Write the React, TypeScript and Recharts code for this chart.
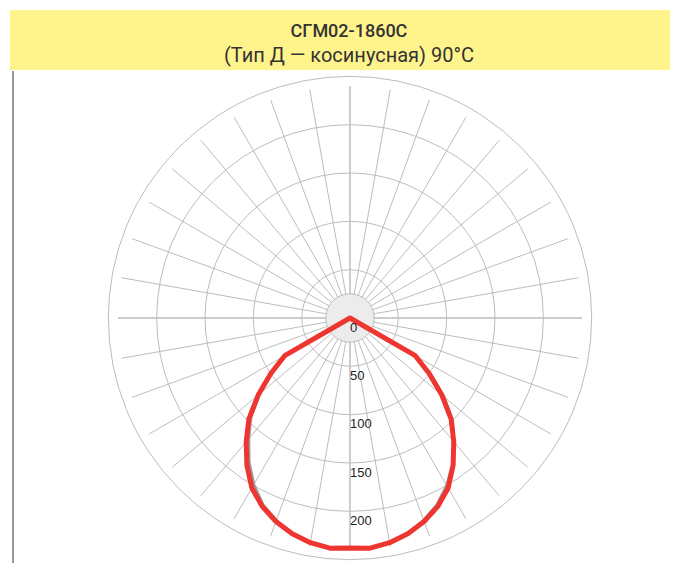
import React from "react";
import { PolarAngleAxis, PolarGrid, PolarRadiusAxis, Radar, RadarChart } from "recharts";

const title = "СГМ02-1860С";
const subtitle = "(Тип Д — косинусная) 90°С";

// angle counted from nadir, going round the diagram every 5° (0 = straight down)
const angles = [
  0, 5, 10, 15, 20, 25, 30, 35, 40, 45, 50, 55, 60, 65, 70, 75, 80, 85, 90, 95, 100, 105, 110, 115,
  120, 125, 130, 135, 140, 145, 150, 155, 160, 165, 170, 175, 180, 185, 190, 195, 200, 205, 210, 215,
  220, 225, 230, 235, 240, 245, 250, 255, 260, 265, 270, 275, 280, 285, 290, 295, 300, 305, 310, 315,
  320, 325, 330, 335, 340, 345, 350, 355,
];

// red curve, cd
const planeA = [
  238, 239, 236, 231, 224, 215, 203, 186, 167, 148, 124, 100, 78, 0, 0, 0, 0, 0, 0, 0, 0, 0, 0, 0,
  0, 0, 0, 0, 0, 0, 0, 0, 0, 0, 0, 0, 0, 0, 0, 0, 0, 0, 0, 0,
  0, 0, 0, 0, 0, 0, 0, 0, 0, 0, 0, 0, 0, 0, 0, 0, 78, 100, 124, 148,
  167, 186, 203, 215, 224, 231, 236, 239,
];

// grey curve under it, cd
const planeB = [
  238, 239, 236, 231, 223, 213, 200, 185, 167, 150, 127, 102, 78, 0, 0, 0, 0, 0, 0, 0, 0, 0, 0, 0,
  0, 0, 0, 0, 0, 0, 0, 0, 0, 0, 0, 0, 0, 0, 0, 0, 0, 0, 0, 0,
  0, 0, 0, 0, 0, 0, 0, 0, 0, 0, 0, 0, 0, 0, 0, 0, 78, 99, 122, 145,
  163, 182, 199, 213, 223, 231, 236, 239,
];

const hubLevel = 25;
const gridAngles = [
  0, 10, 20, 30, 40, 50, 60, 70, 80, 90, 100, 110, 120, 130, 140, 150, 160, 170, 180, 190, 200, 210,
  220, 230, 240, 250, 260, 270, 280, 290, 300, 310, 320, 330, 340, 350,
];
const radiusTicks = [0, 50, 100, 150, 200, 250];
// the 250 label falls below the picture in the original, so only these are written
const radiusLabels = [0, 50, 100, 150, 200];

const rows = angles.map((angle, i) => ({ angle, a: planeA[i], b: planeB[i], hub: hubLevel }));

const GRID = "#bdbdbd";

function RadiusTick(props: any) {
  const { x, y, payload } = props;
  if (!radiusLabels.includes(payload.value)) return <g />;
  return (
    <text
      x={x}
      y={y + 13.5}
      textAnchor="start"
      fontSize={13}
      fill="#222"
      fontFamily="'Liberation Sans', Arial, sans-serif"
    >
      {payload.value}
    </text>
  );
}

export default function App() {
  return (
    <div style={{ position: "relative", width: 670, height: 555, fontFamily: "Roboto, sans-serif" }}>
      <div style={{ position: "absolute", left: 0, top: 0 }}>
        <RadarChart
          width={662}
          height={555}
          data={rows}
          cx={342}
          cy={310}
          innerRadius={0}
          outerRadius={232}
          startAngle={-90}
          endAngle={270}
          margin={{ top: 0, right: 0, bottom: 0, left: 0 }}
        >
          <PolarAngleAxis
            dataKey="angle"
            type="number"
            domain={[0, 360]}
            ticks={gridAngles}
            tick={false}
            tickLine={false}
            axisLine={false}
          />
          <PolarRadiusAxis
            angle={-90}
            type="number"
            domain={[0, 240]}
            ticks={radiusTicks}
            axisLine={false}
            tickLine={false}
            tick={RadiusTick}
          />
          <PolarGrid gridType="circle" stroke={GRID} />
          <Radar dataKey="hub" stroke={GRID} fill="#ececec" fillOpacity={1} dot={false} isAnimationActive={false} />
          <PolarGrid gridType="circle" polarAngles={[0, 90, 180, 270]} polarRadius={[]} stroke={GRID} />
          <Radar dataKey="b" stroke="#9c9c9c" strokeWidth={3} fill="none" fillOpacity={0} dot={false} isAnimationActive={false} />
          <Radar
            dataKey="a"
            stroke="#ee3530"
            strokeWidth={5}
            strokeLinejoin="round"
            fill="none"
            fillOpacity={0}
            dot={false}
            isAnimationActive={false}
          />
        </RadarChart>
      </div>
      <div style={{ position: "absolute", left: 4, top: 63, width: 2, height: 492, background: "#999" }} />
      <div
        style={{
          position: "absolute",
          left: 2,
          top: 2,
          width: 668,
          height: 60,
          background: "#fff38c",
          color: "#333",
          textAlign: "center",
          paddingTop: 10,
          paddingLeft: 10,
          boxSizing: "border-box",
        }}
      >
        <div style={{ fontWeight: 500, fontSize: 18, lineHeight: "22px" }}>{title}</div>
        <div style={{ fontSize: 20, lineHeight: "26px" }}>{subtitle}</div>
      </div>
    </div>
  );
}
